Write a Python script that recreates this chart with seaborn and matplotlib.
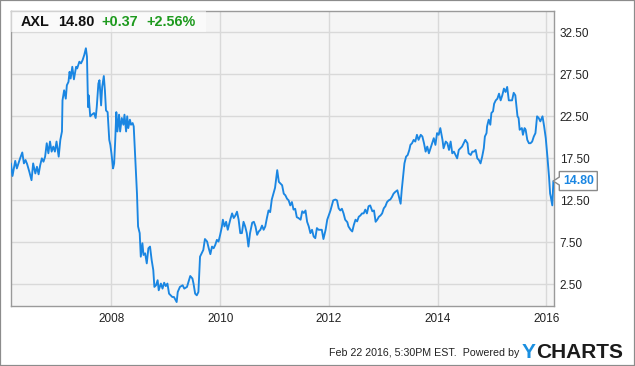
import matplotlib
matplotlib.use("Agg")
import matplotlib.pyplot as plt
from matplotlib.patches import Rectangle, Polygon
import seaborn as sns
import pandas as pd

# ---- data ----
years = [
    2006.15, 2006.18, 2006.23, 2006.26, 2006.29, 2006.32, 2006.36, 2006.39, 2006.42, 2006.45,
    2006.49, 2006.53, 2006.56, 2006.60, 2006.63, 2006.66, 2006.69, 2006.72, 2006.75, 2006.78,
    2006.81, 2006.84, 2006.87, 2006.90, 2006.93, 2006.96, 2006.99, 2007.03, 2007.06, 2007.09,
    2007.10, 2007.13, 2007.16, 2007.18, 2007.21, 2007.23, 2007.25, 2007.28, 2007.31, 2007.35,
    2007.37, 2007.41, 2007.44, 2007.47, 2007.50, 2007.53, 2007.55, 2007.57, 2007.58, 2007.61,
    2007.64, 2007.68, 2007.71, 2007.73, 2007.76, 2007.78, 2007.81, 2007.83, 2007.86, 2007.88,
    2007.90, 2007.93, 2007.96, 2007.98, 2008.00, 2008.03, 2008.05, 2008.07, 2008.09, 2008.11,
    2008.14, 2008.16, 2008.19, 2008.22, 2008.24, 2008.27, 2008.29, 2008.31, 2008.34, 2008.36,
    2008.39, 2008.41, 2008.44, 2008.47, 2008.49, 2008.52, 2008.54, 2008.57, 2008.59, 2008.62,
    2008.65, 2008.68, 2008.71, 2008.74, 2008.77, 2008.79, 2008.82, 2008.85, 2008.87, 2008.91,
    2008.94, 2008.97, 2009.00, 2009.03, 2009.06, 2009.09, 2009.12, 2009.15, 2009.20, 2009.22,
    2009.26, 2009.31, 2009.34, 2009.39, 2009.45, 2009.49, 2009.51, 2009.54, 2009.57, 2009.60,
    2009.63, 2009.66, 2009.69, 2009.72, 2009.76, 2009.79, 2009.82, 2009.85, 2009.88, 2009.91,
    2009.94, 2009.97, 2010.00, 2010.03, 2010.05, 2010.08, 2010.11, 2010.14, 2010.19, 2010.22,
    2010.25, 2010.28, 2010.31, 2010.34, 2010.37, 2010.40, 2010.43, 2010.46, 2010.49, 2010.52,
    2010.55, 2010.59, 2010.62, 2010.65, 2010.68, 2010.71, 2010.74, 2010.77, 2010.80, 2010.83,
    2010.86, 2010.89, 2010.92, 2010.95, 2010.98, 2011.01, 2011.05, 2011.08, 2011.11, 2011.14,
    2011.17, 2011.20, 2011.23, 2011.26, 2011.29, 2011.32, 2011.35, 2011.38, 2011.41, 2011.44,
    2011.48, 2011.51, 2011.54, 2011.57, 2011.60, 2011.63, 2011.66, 2011.69, 2011.72, 2011.75,
    2011.78, 2011.81, 2011.84, 2011.87, 2011.90, 2011.94, 2011.97, 2012.03, 2012.08, 2012.12,
    2012.15, 2012.18, 2012.21, 2012.24, 2012.27, 2012.30, 2012.34, 2012.36, 2012.40, 2012.43,
    2012.46, 2012.49, 2012.52, 2012.55, 2012.58, 2012.61, 2012.64, 2012.67, 2012.70, 2012.73,
    2012.76, 2012.80, 2012.83, 2012.86, 2012.89, 2012.92, 2012.95, 2012.98, 2013.01, 2013.04,
    2013.07, 2013.10, 2013.13, 2013.16, 2013.19, 2013.22, 2013.26, 2013.29, 2013.32, 2013.34,
    2013.37, 2013.39, 2013.42, 2013.45, 2013.48, 2013.50, 2013.53, 2013.56, 2013.59, 2013.62,
    2013.65, 2013.69, 2013.72, 2013.75, 2013.78, 2013.81, 2013.84, 2013.87, 2013.90, 2013.93,
    2013.96, 2013.99, 2014.02, 2014.05, 2014.09, 2014.11, 2014.15, 2014.18, 2014.21, 2014.24,
    2014.27, 2014.30, 2014.33, 2014.36, 2014.39, 2014.42, 2014.45, 2014.48, 2014.51, 2014.55,
    2014.57, 2014.61, 2014.64, 2014.67, 2014.70, 2014.73, 2014.76, 2014.79, 2014.82, 2014.85,
    2014.87, 2014.90, 2014.91, 2014.94, 2014.97, 2014.99, 2015.02, 2015.04, 2015.07, 2015.10,
    2015.13, 2015.16, 2015.19, 2015.22, 2015.25, 2015.28, 2015.31, 2015.34, 2015.37, 2015.40,
    2015.43, 2015.47, 2015.49, 2015.51, 2015.55, 2015.57, 2015.60, 2015.62, 2015.65, 2015.68,
    2015.71, 2015.74, 2015.77, 2015.80, 2015.83, 2015.86, 2015.89, 2015.93, 2015.96, 2015.99,
    2016.02, 2016.05, 2016.07, 2016.08, 2016.11, 2016.13,
]
prices = [
    16.9, 15.4, 17.2, 16.3, 16.9, 17.5, 18.2, 16.9, 17.3, 16.8,
    15.9, 14.9, 16.9, 15.7, 16.5, 15.6, 16.7, 17.5, 17.1, 17.7,
    19.3, 18.1, 19.5, 18.3, 18.9, 18.3, 19.5, 17.7, 19.7, 20.7,
    24.4, 25.6, 24.6, 26.2, 26.6, 27.8, 27.0, 28.4, 26.9, 28.4,
    28.2, 29.0, 28.8, 29.2, 29.8, 30.6, 29.6, 23.6, 25.0, 22.5,
    22.7, 22.9, 22.3, 23.6, 26.4, 26.8, 23.8, 26.0, 27.3, 25.6,
    23.2, 23.0, 19.7, 19.1, 18.1, 16.3, 16.9, 19.7, 23.0, 20.7,
    22.7, 20.7, 22.3, 21.5, 22.7, 20.7, 22.5, 21.1, 22.1, 21.5,
    21.7, 21.3, 17.3, 13.3, 9.4, 8.6, 5.8, 7.4, 6.0, 6.2,
    5.0, 6.8, 7.0, 5.4, 4.2, 2.2, 2.4, 3.0, 1.8, 2.6,
    2.0, 2.7, 2.3, 2.6, 1.4, 1.2, 1.0, 1.0, 0.4, 1.6,
    2.2, 2.4, 2.0, 2.2, 3.5, 3.2, 2.6, 1.4, 1.2, 1.6,
    5.8, 6.2, 6.6, 7.9, 7.6, 6.8, 6.1, 7.0, 6.8, 7.2,
    7.8, 7.6, 8.4, 9.3, 10.2, 9.4, 9.95, 9.0, 10.3, 10.95,
    10.4, 10.7, 11.15, 10.2, 8.6, 8.6, 9.95, 9.4, 8.6, 7.0,
    8.6, 9.85, 9.95, 9.4, 8.4, 8.8, 9.0, 9.5, 9.0, 9.4,
    10.4, 11.3, 11.1, 12.6, 13.3, 14.0, 16.1, 14.7, 14.5, 14.3,
    13.3, 13.1, 12.7, 12.5, 11.9, 12.3, 11.4, 11.5, 10.5, 10.4,
    10.2, 11.2, 11.0, 11.3, 9.95, 9.4, 8.6, 9.0, 8.2, 8.0,
    9.2, 9.0, 9.0, 9.0, 7.9, 9.0, 10.2, 11.3, 12.5, 12.6,
    12.5, 11.55, 11.3, 11.5, 10.95, 10.2, 9.9, 9.4, 9.0, 8.8,
    9.6, 10.2, 10.0, 10.55, 10.7, 10.95, 10.95, 11.4, 10.95, 11.8,
    11.9, 11.2, 11.3, 9.95, 10.2, 10.55, 10.7, 10.95, 11.55, 11.8,
    12.3, 12.5, 12.6, 12.9, 13.3, 13.5, 13.7, 12.9, 12.1, 13.7,
    15.7, 16.9, 17.7, 17.9, 18.5, 19.1, 19.3, 19.7, 19.5, 20.3,
    19.7, 20.3, 20.1, 19.3, 18.3, 18.9, 18.1, 18.7, 19.3, 19.9,
    19.1, 20.5, 20.3, 21.1, 19.7, 18.7, 19.5, 19.3, 18.5, 19.5,
    18.1, 18.3, 17.9, 17.5, 18.5, 18.7, 18.9, 19.3, 19.7, 19.3,
    18.1, 17.9, 18.3, 18.3, 18.5, 17.5, 17.3, 16.9, 17.7, 18.7,
    20.1, 20.5, 21.3, 22.1, 21.5, 22.9, 23.1, 24.0, 24.4, 24.6,
    25.2, 24.4, 25.0, 25.8, 25.4, 26.0, 24.4, 24.4, 24.4, 25.3,
    25.0, 22.5, 22.3, 20.9, 21.1, 20.3, 21.1, 20.9, 19.7, 19.3,
    19.3, 19.5, 20.1, 20.5, 22.5, 22.3, 21.9, 22.5, 21.3, 19.9,
    17.7, 15.3, 13.3, 13.0, 11.9, 14.8,
]
year_ticks = [2008, 2010, 2012, 2014, 2016]
price_ticks = [2.5, 7.5, 12.5, 17.5, 22.5, 27.5, 32.5]
ticker = "AXL"
last_price = 14.80
change = 0.37
change_pct = 2.56
stamp = "Feb 22 2016, 5:30PM EST.  Powered by"

df = pd.DataFrame({"year": years, "price": prices})

# ---- style ----
sns.set_style("white", {
    "axes.facecolor": "#f5f5f5",
    "axes.edgecolor": "#9a9a9a",
    "grid.color": "#d9d9d9",
})
plt.rcParams["font.family"] = ["Liberation Sans", "DejaVu Sans"]

W, H = 635, 366
fig = plt.figure(figsize=(W / 100, H / 100), dpi=100, facecolor="white")
L, R, T, B = 10.7, 554.3, 10.7, 306.0
ax = fig.add_axes([L / W, 1 - B / H, (R - L) / W, (B - T) / H])

LINE = "#1a86e2"
sns.lineplot(data=df, x="year", y="price", ax=ax, color=LINE, linewidth=1.35,
             zorder=3, estimator=None, sort=False)

ax.set_xlim(2006.147, 2016.147)
ax.set_ylim(-0.07, 35.07)
ax.set_xticks(year_ticks)
ax.set_xticklabels([str(y) for y in year_ticks])
ax.set_yticks(price_ticks)
ax.set_yticklabels([f"{p:.2f}" for p in price_ticks])
ax.yaxis.tick_right()
ax.tick_params(axis="both", length=0, labelsize=8.5, labelcolor="#222222")
ax.tick_params(axis="y", pad=4)
ax.tick_params(axis="x", pad=5)
ax.set_xlabel("")
ax.set_ylabel("")
ax.grid(True, color="#d9d9d9", linewidth=1.0, zorder=0)
ax.set_axisbelow(True)
for s in ax.spines.values():
    s.set_visible(True)
    s.set_color("#9a9a9a")
    s.set_linewidth(1.0)

# header box
def px(x, y):
    return (x / W, 1 - y / H)

hx, hy = px(L, 32.3)
fig.patches.append(Rectangle((hx, hy), (206 - L) / W, (32.3 - T) / H,
                             transform=fig.transFigure, facecolor="white",
                             alpha=0.55, edgecolor="none", zorder=5))
ty = 1 - 22.0 / H
hdr = dict(fontsize=10.4, fontweight="bold", va="center", ha="left", zorder=6)
fig.text(21 / W, ty, ticker, color="#111111", **hdr)
fig.text(57.7 / W, ty, f"{last_price:.2f}", color="#111111", **hdr)
fig.text(101 / W, ty, f"+{change:.2f}", color="#1e9a1e", **hdr)
fig.text(146 / W, ty, f"+{change_pct:.2f}%", color="#1e9a1e", **hdr)

# last price tag on the right
fig.canvas.draw()
xd, yd = ax.transData.transform((2016.147, last_price))
tip_x = xd - 1
bl, br = xd + 5, xd + 43
bt, bb = yd + 9.5, yd - 9.5
box = Polygon([(bl, bb), (br, bb), (br, bt), (bl, bt), (bl, yd + 4), (tip_x, yd),
               (bl, yd - 4)], closed=True, transform=None, facecolor="white",
              edgecolor="#8a8a8a", linewidth=1.0, zorder=7, clip_on=False)
fig.patches.append(box)
fig.text((bl + br) / 2 / W, yd / H, f"{last_price:.2f}", color=LINE,
         fontsize=8.8, fontweight="bold", ha="center", va="center", zorder=8)

# footer
fy = 1 - 352.7 / H
fig.text(519 / W, fy, stamp, color="#222222", fontsize=7.7, ha="right", va="center")
yt = fig.text(522 / W, fy, "Y", color="#1a8fe0", fontsize=15, fontweight="bold",
              ha="left", va="center")
fig.canvas.draw()
bb_y = yt.get_window_extent()
fig.text((bb_y.x1 + 0.5) / W, fy, "CHARTS", color="#1b1b1b", fontsize=15,
         fontweight="bold", ha="left", va="center")

# outer frame
fig.patches.append(Rectangle((0, 0), 1, 1, transform=fig.transFigure, fill=False,
                             edgecolor="#8c8c8c", linewidth=1.6, zorder=10))

fig.savefig("out.png", dpi=100, facecolor="white")
